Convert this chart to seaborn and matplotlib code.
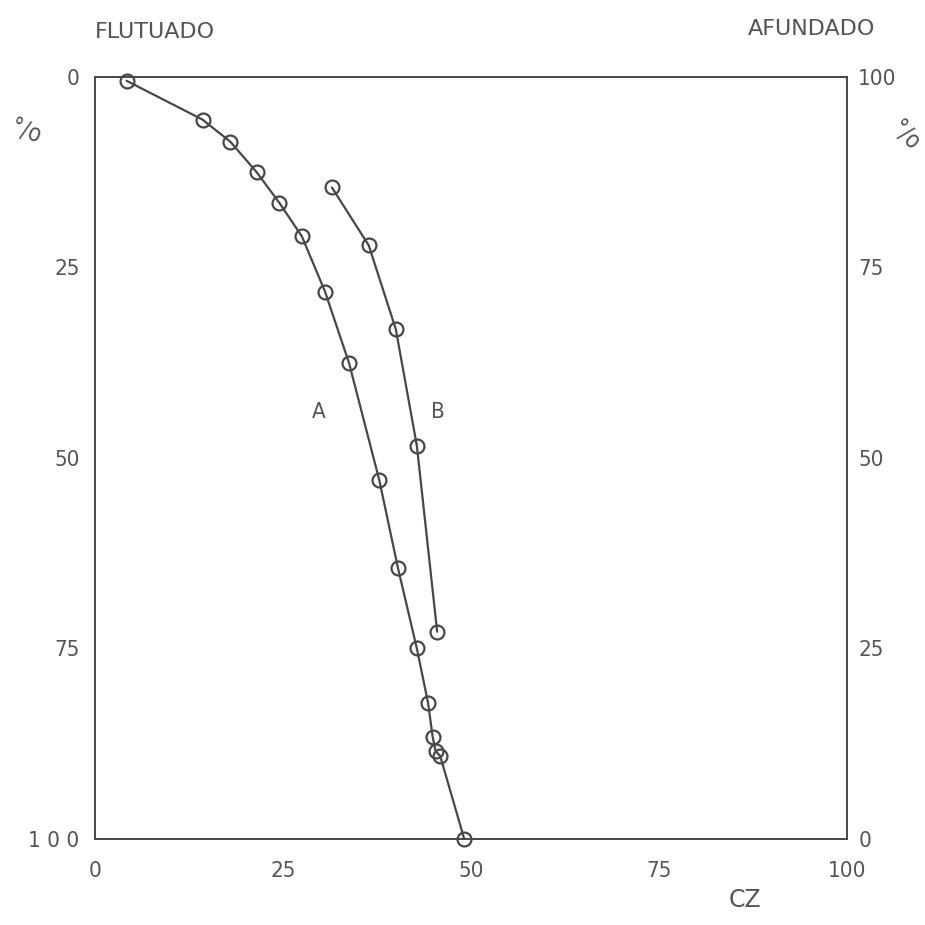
import matplotlib
matplotlib.use("Agg")
import matplotlib.pyplot as plt
import seaborn as sns
import pandas as pd

# Curve A
a_cz = [4.2, 14.3, 18.0, 21.5, 24.5, 27.5, 30.6, 33.8, 37.8, 40.3, 42.8, 44.3, 44.9, 45.3, 45.9, 49.1]
a_flut = [0.5, 5.6, 8.5, 12.5, 16.5, 20.9, 28.2, 37.6, 52.9, 64.5, 75.0, 82.2, 86.6, 88.5, 89.1, 100.0]
# Curve B
b_cz = [31.5, 36.4, 40.0, 42.8, 45.5]
b_flut = [14.5, 22.1, 33.1, 48.4, 72.8]

ticks = [0, 25, 50, 75, 100]
left_labels = ["0", "25", "50", "75", "1 0 0"]
right_labels = ["0", "25", "50", "75", "100"]

sns.set_style("white")
plt.rcParams['font.family'] = ['DejaVu Sans']
plt.rcParams['font.stretch'] = 'condensed'

fig = plt.figure(figsize=(9.25, 9.25), dpi=100)
ax = fig.add_axes([0.1027, 0.093, 0.8130, 0.8238])

line_col = "#474747"
text_col = "#555555"
fs = 16

dfa = pd.DataFrame({"cz": a_cz, "flut": a_flut})
dfb = pd.DataFrame({"cz": b_cz, "flut": b_flut})
for df in (dfa, dfb):
    sns.lineplot(data=df, x="cz", y="flut", sort=False, ax=ax, color=line_col,
                 lw=1.6, marker="o", markersize=10, markerfacecolor="none",
                 markeredgecolor=line_col, markeredgewidth=1.6, zorder=3, clip_on=False)

ax.set_xlim(0, 100)
ax.set_ylim(100, 0)
ax.set_xticks(ticks)
ax.set_xticklabels([str(t) for t in ticks])
ax.set_yticks(ticks)
ax.set_yticklabels(left_labels)
ax.set_xlabel("")
ax.set_ylabel("")
ax.tick_params(axis="both", length=0, labelsize=fs, labelcolor=text_col)
ax.tick_params(axis="x", pad=16)
ax.tick_params(axis="y", pad=11)
for s in ax.spines.values():
    s.set_color(line_col)
    s.set_linewidth(1.4)

ax2 = ax.twinx()
ax2.set_ylim(0, 100)
ax2.set_yticks(ticks)
ax2.set_yticklabels(right_labels)
ax2.tick_params(axis="y", length=0, labelsize=fs, labelcolor=text_col, pad=8)
for s in ax2.spines.values():
    s.set_visible(False)

ax.text(29.7, 44, "A", fontsize=fs, color=text_col, ha="center", va="center")
ax.text(45.6, 44, "B", fontsize=fs, color=text_col, ha="center", va="center")

fig.text(0.1027, 0.965, "FLUTUADO", fontsize=16, fontstretch="normal", color=text_col,
         ha="left", va="center")
fig.text(0.946, 0.969, "AFUNDADO", fontsize=16, fontstretch="normal", color=text_col,
         ha="right", va="center")
fig.text(0.805, 0.014, "CZ", fontsize=17, fontstretch="normal", color=text_col,
         ha="center", va="bottom")
fig.text(0.028, 0.857, "°/o", fontsize=17, color=text_col, ha="center", va="center", rotation=-20)
fig.text(0.978, 0.853, "°/o", fontsize=17, color=text_col, ha="center", va="center", rotation=-45)

fig.savefig("out.png", dpi=100, facecolor="white")
